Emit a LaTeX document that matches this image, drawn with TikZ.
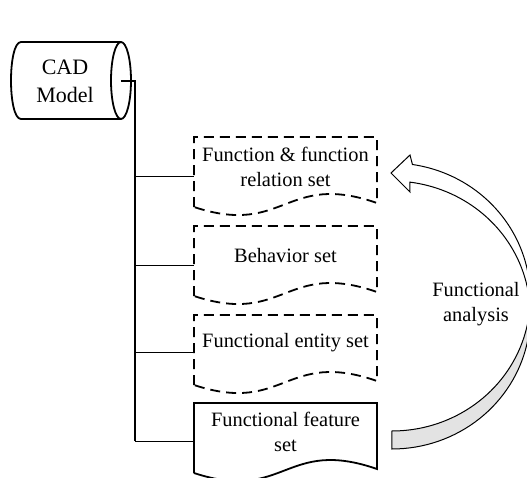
\documentclass[tikz,border=0pt]{standalone}
\usepackage{fontspec}
\setmainfont{Liberation Serif}
\begin{document}
\begin{tikzpicture}[x=0.5pt,y=-0.5pt,
  lbl/.style={font=\fontsize{10.2}{12.5}\selectfont, align=center, inner sep=0pt},
  cadlbl/.style={font=\fontsize{11}{14}\selectfont, align=center, inner sep=0pt},
  outline/.style={line width=0.9pt, line join=miter},
  dashedline/.style={outline, dash pattern=on 5pt off 3pt},
  mainwire/.style={line width=0.8pt},
  branchwire/.style={line width=0.5pt},
  ribbon/.style={line width=0.5pt, line join=miter}
]
\useasboundingbox (0,0) rectangle (527,478);
\clip (0,0) rectangle (527,478);

% CAD model: stored-data cylinder lying on its side
\draw[outline] (121,42) -- (21,42) .. controls (7.67,42) and (7.67,119) .. (21,119) -- (121,119);
\draw[outline] (121,80.5) ellipse [x radius=10, y radius=38.5];
\node[cadlbl] (cad) at (65,81) {CAD\\Model};

% Document sets
\draw[dashedline] (194,207) -- (194,137) -- (377,137) -- (377,203)
  .. controls (285,171) and (285,237) .. (194,207);
\draw[dashedline] (194,296) -- (194,226) -- (377,226) -- (377,292)
  .. controls (285,260) and (285,326) .. (194,296);
\draw[dashedline] (194,385) -- (194,315) -- (377,315) -- (377,381)
  .. controls (285,349) and (285,415) .. (194,385);
\draw[outline] (194,473) -- (194,403) -- (377,403) -- (377,469)
  .. controls (285,437) and (285,503) .. (194,473);

\node[lbl] (fr) at (285.5,167) {Function \& function\\relation set};
\node[lbl] (bh) at (285.5,256) {Behavior set};
\node[lbl] (fe) at (285.5,343) {Functional entity set};
\node[lbl] (ff) at (285.5,432) {Functional feature\\set};

% Connection points
\coordinate (cadport) at (121,81);
\coordinate (bus) at (135,81);
\coordinate (e1) at (194,176);
\coordinate (e2) at (194,265);
\coordinate (e3) at (194,352);
\coordinate (e4) at (194,441);

\draw[mainwire] (cadport) -- (bus) -- (bus |- e4);
\draw[branchwire] (bus |- e1) -- (e1);
\draw[branchwire] (bus |- e2) -- (e2);
\draw[branchwire] (bus |- e3) -- (e3);
\draw[branchwire] (bus |- e4) -- (e4);

% Curved ribbon arrow: front face with the head, back face towards the tail
\draw[ribbon, fill=white] (410,155) -- (391,173) -- (410,192)
  -- plot[domain=82:0, samples=40, variable=\t]
     ({392+(138-9*sin(\t))*cos(\t)}, {306-(134-9*sin(\t))*sin(\t)})
  -- plot[domain=0:82, samples=40, variable=\t]
     ({392+(138+9*sin(\t))*cos(\t)}, {306-(134+9*sin(\t))*sin(\t)})
  -- cycle;
\draw[ribbon, fill=black!11]
  plot[domain=0:-90, samples=40, variable=\t]
     ({392+(138+9*sin(\t))*cos(\t)}, {306-(134+9*sin(\t))*sin(\t)})
  -- plot[domain=-90:0, samples=40, variable=\t]
     ({392+(138-9*sin(\t))*cos(\t)}, {306-(134-9*sin(\t))*sin(\t)})
  -- cycle;

\node[lbl] (fa) at (476,304) {Functional\\analysis};
\end{tikzpicture}
\end{document}
